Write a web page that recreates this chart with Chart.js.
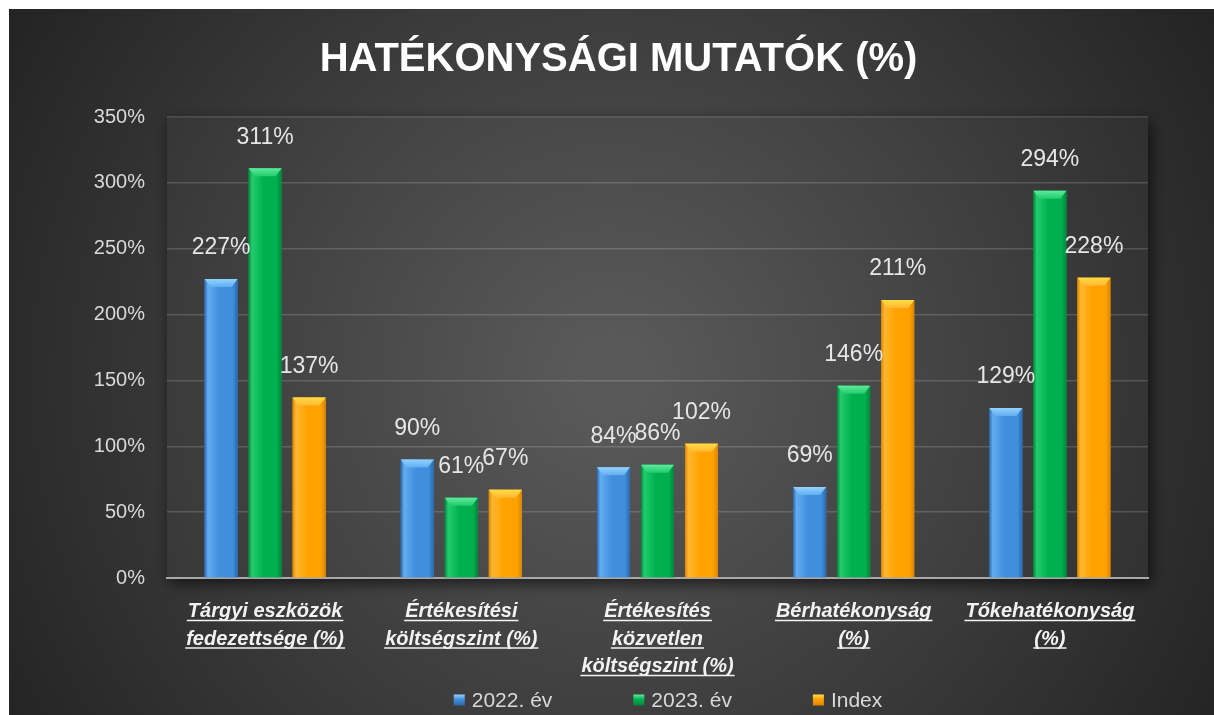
<!DOCTYPE html>
<html lang="hu">
<head>
  <meta charset="UTF-8" />
  <meta name="viewport" content="width=device-width, initial-scale=1.0"/>
  <title>Hatékonysági mutatók</title>
  <script src="https://cdn.jsdelivr.net/npm/chart.js"></script>
  <style>
    html, body {
      margin: 0;
      padding: 0;
      background: #ffffff;
      overflow: hidden;
    }

    .chart-container {
      position: absolute;
      left: 9px;
      top: 9px;
      width: 1205px;
      height: 706px;
    }
  </style>
</head>
<body>
  <div class="chart-container">
    <canvas id="mutatokChart"></canvas>
  </div>

  <script>
    const chartTitle = 'HATÉKONYSÁGI MUTATÓK (%)';
    const categories = [
      ['Tárgyi eszközök', 'fedezettsége (%)'],
      ['Értékesítési', 'költségszint (%)'],
      ['Értékesítés', 'közvetlen', 'költségszint (%)'],
      ['Bérhatékonyság', '(%)'],
      ['Tőkehatékonyság', '(%)']
    ];
    const seriesNames = ['2022. év', '2023. év', 'Index'];
    const values2022 = [227, 90, 84, 69, 129];
    const values2023 = [311, 61, 86, 146, 294];
    const valuesIndex = [137, 67, 102, 211, 228];
    const yMax = 350;
    const yStep = 50;

    // bar shading (base, lighter edge, darker edge, top bevel)
    const barColors = [
      { base: '#3f8fdc', light: '#62adf0', dark: '#2a68ad', cap: '#93d2ff' },
      { base: '#00b04f', light: '#22cc6c', dark: '#00853a', cap: '#5fe99c' },
      { base: '#ffa200', light: '#ffb730', dark: '#db8500', cap: '#ffdc48' }
    ];

    const FONT = "'Liberation Sans', Arial, sans-serif";
    Chart.defaults.font.family = FONT;

    const backgroundPlugin = {
      id: 'darkBackground',
      beforeDraw(chart) {
        const { ctx, width, height, chartArea } = chart;
        ctx.save();
        const g = ctx.createRadialGradient(width * 0.5, height * 0.52, 20, width * 0.5, height * 0.52, 720);
        g.addColorStop(0, '#565656');
        g.addColorStop(0.55, '#3a3a3a');
        g.addColorStop(1, '#222222');
        ctx.fillStyle = g;
        ctx.fillRect(0, 0, width, height);

        // plot area panel with soft shadow
        ctx.shadowColor = 'rgba(0,0,0,0.65)';
        ctx.shadowBlur = 14;
        ctx.shadowOffsetX = 3;
        ctx.shadowOffsetY = 5;
        ctx.fillStyle = g;
        ctx.fillRect(chartArea.left, chartArea.top, chartArea.width, chartArea.height);
        ctx.shadowColor = 'transparent';
        ctx.fillStyle = 'rgba(255,255,255,0.025)';
        ctx.fillRect(chartArea.left, chartArea.top, chartArea.width, chartArea.height);
        ctx.restore();
      }
    };

    const bevelPlugin = {
      id: 'bevel',
      afterDatasetsDraw(chart) {
        const ctx = chart.ctx;
        chart.data.datasets.forEach((ds, di) => {
          const c = barColors[di];
          chart.getDatasetMeta(di).data.forEach((bar) => {
            const { x, y, base, width } = bar.getProps(['x', 'y', 'base', 'width'], true);
            const left = x - width / 2;
            const right = x + width / 2;
            ctx.save();
            const g = ctx.createLinearGradient(left, 0, right, 0);
            g.addColorStop(0, c.dark);
            g.addColorStop(0.1, c.light);
            g.addColorStop(0.45, c.base);
            g.addColorStop(0.85, c.base);
            g.addColorStop(1, c.dark);
            ctx.fillStyle = g;
            ctx.fillRect(left, y, width, base - y);

            const capH = Math.min(8, (base - y) / 2);
            const cg = ctx.createLinearGradient(0, y, 0, y + capH);
            cg.addColorStop(0, c.cap);
            cg.addColorStop(1, c.light);
            ctx.fillStyle = cg;
            ctx.beginPath();
            ctx.moveTo(left, y);
            ctx.lineTo(right, y);
            ctx.lineTo(right - 6, y + capH);
            ctx.lineTo(left + 6, y + capH);
            ctx.closePath();
            ctx.fill();
            ctx.restore();
          });
        });
      }
    };

    const valueLabelsPlugin = {
      id: 'valueLabels',
      afterDatasetsDraw(chart) {
        const ctx = chart.ctx;
        ctx.save();
        ctx.font = '23px ' + FONT;
        ctx.fillStyle = '#e6e6e6';
        ctx.textAlign = 'center';
        ctx.textBaseline = 'middle';
        chart.data.datasets.forEach((ds, di) => {
          chart.getDatasetMeta(di).data.forEach((bar, i) => {
            ctx.fillText(ds.data[i] + '%', bar.x, bar.y - 31);
          });
        });
        ctx.restore();
      }
    };

    const categoryLabelsPlugin = {
      id: 'categoryLabels',
      afterDraw(chart) {
        const { ctx, chartArea } = chart;
        const xScale = chart.scales.x;
        ctx.save();
        ctx.font = 'italic bold 20px ' + FONT;
        ctx.fillStyle = '#f2f2f2';
        ctx.strokeStyle = '#f2f2f2';
        ctx.lineWidth = 1.5;
        ctx.textAlign = 'center';
        ctx.textBaseline = 'alphabetic';
        categories.forEach((lines, i) => {
          const cx = xScale.getPixelForValue(i);
          lines.forEach((line, li) => {
            const by = chartArea.bottom + 39 + li * 27.5;
            ctx.fillText(line, cx, by);
            const w = ctx.measureText(line).width;
            ctx.beginPath();
            ctx.moveTo(cx - w / 2 - 1, by + 3.5);
            ctx.lineTo(cx + w / 2 + 1, by + 3.5);
            ctx.stroke();
          });
        });
        ctx.restore();
      }
    };

    const legendPlugin = {
      id: 'bottomLegend',
      afterDraw(chart) {
        const ctx = chart.ctx;
        const box = 11;
        const gap = 7;
        const spacing = 81;
        const centerX = 659;
        const y = 691;
        ctx.save();
        ctx.font = '21px ' + FONT;
        ctx.textBaseline = 'middle';
        ctx.textAlign = 'left';
        const widths = seriesNames.map(n => box + gap + ctx.measureText(n).width);
        const total = widths.reduce((a, b) => a + b, 0) + spacing * (seriesNames.length - 1);
        let x = centerX - total / 2;
        seriesNames.forEach((name, i) => {
          const c = barColors[i];
          const g = ctx.createLinearGradient(0, y - box / 2, 0, y + box / 2);
          g.addColorStop(0, c.cap);
          g.addColorStop(0.45, c.base);
          g.addColorStop(1, c.dark);
          ctx.fillStyle = g;
          ctx.fillRect(x, y - box / 2, box, box);
          ctx.fillStyle = '#d9d9d9';
          ctx.fillText(name, x + box + gap, y + 1);
          x += widths[i] + spacing;
        });
        ctx.restore();
      }
    };

    const datasets = [values2022, values2023, valuesIndex].map((vals, i) => ({
      label: seriesNames[i],
      data: vals,
      backgroundColor: barColors[i].base,
      borderWidth: 0,
      barPercentage: 0.75,
      categoryPercentage: 0.673
    }));

    const ctx = document.getElementById('mutatokChart').getContext('2d');
    const chart = new Chart(ctx, {
      type: 'bar',
      data: {
        labels: categories,
        datasets: datasets
      },
      plugins: [backgroundPlugin, bevelPlugin, valueLabelsPlugin, categoryLabelsPlugin, legendPlugin],
      options: {
        responsive: true,
        maintainAspectRatio: false,
        animation: false,
        layout: {
          padding: { left: 80, right: 66, top: 0, bottom: 0 }
        },
        scales: {
          x: {
            grid: { display: false },
            border: { display: true, color: '#a8a8a8', width: 2 },
            ticks: { display: false },
            afterFit: (scale) => { scale.height = 137; }
          },
          y: {
            min: 0,
            max: yMax,
            ticks: {
              stepSize: yStep,
              padding: 22,
              color: '#d9d9d9',
              font: { size: 20 },
              callback: (v) => v + '%'
            },
            grid: {
              color: 'rgba(255,255,255,0.16)',
              lineWidth: 1.5,
              drawTicks: false
            },
            border: { display: false },
            afterFit: (scale) => { scale.width = 78; }
          }
        },
        plugins: {
          legend: { display: false },
          tooltip: { enabled: false },
          title: {
            display: true,
            text: chartTitle,
            color: '#ffffff',
            font: { size: 40, weight: 'bold' },
            padding: { top: 27, bottom: 33 }
          }
        }
      }
    });
  </script>
</body>
</html>
